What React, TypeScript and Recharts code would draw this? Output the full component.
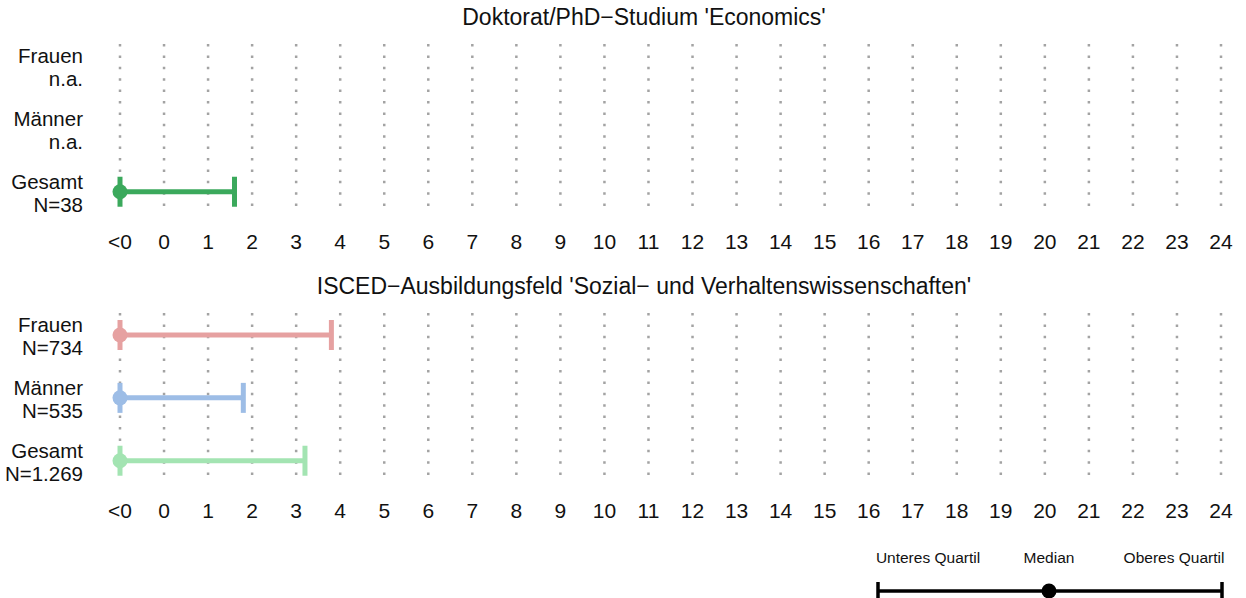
import React from 'react';
import { ScatterChart, Scatter, XAxis, YAxis, CartesianGrid, ErrorBar } from 'recharts';

// x positions: -1 stands for the "<0" column
const xTicks = [-1, 0, 1, 2, 3, 4, 5, 6, 7, 8, 9, 10, 11, 12, 13, 14, 15, 16, 17, 18, 19, 20, 21, 22, 23, 24];
const groups = ['Frauen', 'Männer', 'Gesamt'];
const rowPos = [1, 2, 3];

const phdTitle = "Doktorat/PhD\u2212Studium 'Economics'";
const phdN = ['n.a.', 'n.a.', 'N=38'];
const phdLower = [null, null, -1];
const phdMedian = [null, null, -1];
const phdUpper = [null, null, 1.6];
const phdColors = ['#e6a1a1', '#9dbde6', '#3ba95c'];

const iscedTitle = "ISCED\u2212Ausbildungsfeld 'Sozial\u2212 und Verhaltenswissenschaften'";
const iscedN = ['N=734', 'N=535', 'N=1.269'];
const iscedLower = [-1, -1, -1];
const iscedMedian = [-1, -1, -1];
const iscedUpper = [3.8, 1.8, 3.2];
const iscedColors = ['#e6a1a1', '#9dbde6', '#a3e4b2'];

const legendLabels = ['Unteres Quartil', 'Median', 'Oberes Quartil'];

const FONT = '"Liberation Sans", Arial, sans-serif';

const fmtTick = (v: number) => (v < 0 ? '<0' : String(v));

const RowTick = (props: any) => {
  const { x, y, payload, labels } = props;
  const i = rowPos.indexOf(payload.value);
  return (
    <text x={x} y={y} textAnchor="end" fontSize={20.5} fill="#111" fontFamily={FONT}>
      <tspan x={x} dy={-3}>{groups[i]}</tspan>
      <tspan x={x} dy={23}>{labels[i]}</tspan>
    </text>
  );
};

const makeDot = (color: string) => (props: any) => {
  const { cx, cy } = props;
  if (cx == null || cy == null) return <g />;
  return <circle cx={cx} cy={cy} r={7.5} fill={color} />;
};

type PanelProps = {
  title: string;
  top: number;
  nLabels: string[];
  lower: (number | null)[];
  median: (number | null)[];
  upper: (number | null)[];
  colors: string[];
};

function Panel({ title, top, nLabels, lower, median, upper, colors }: PanelProps) {
  const series = groups.map((g, i) =>
    median[i] == null
      ? []
      : [{ x: median[i], y: rowPos[i], err: [median[i]! - lower[i]!, upper[i]! - median[i]!] }]
  );
  return (
    <div style={{ position: 'absolute', left: 0, top, width: 1246, height: 260 }}>
      <ScatterChart width={1246} height={260} margin={{ top: 44, right: 25, bottom: 0, left: 0 }}>
        <CartesianGrid horizontal={false} stroke="#a3a3a3" strokeWidth={2.5} strokeDasharray="2.5 8.9" />
        <XAxis
          type="number"
          dataKey="x"
          domain={[-1, 24]}
          ticks={xTicks}
          interval={0}
          tickFormatter={fmtTick}
          axisLine={false}
          tickLine={false}
          tickSize={0}
          tickMargin={19}
          height={45}
          tick={{ fontSize: 21, fill: '#111' }}
        />
        <YAxis
          type="number"
          dataKey="y"
          domain={[0.65, 3.37]}
          reversed
          ticks={rowPos}
          interval={0}
          width={120}
          axisLine={false}
          tickLine={false}
          tickSize={0}
          tickMargin={37}
          tick={(p: any) => <RowTick {...p} labels={nLabels} />}
        />
        {series.map((d, i) => (
          <Scatter key={groups[i]} data={d} fill={colors[i]} isAnimationActive={false} shape={makeDot(colors[i])}>
            <ErrorBar dataKey="err" direction="x" width={15} stroke={colors[i]} strokeWidth={5} isAnimationActive={false} />
          </Scatter>
        ))}
      </ScatterChart>
      <div
        style={{
          position: 'absolute',
          left: 0,
          top: 4,
          width: 1288,
          textAlign: 'center',
          fontSize: 23,
          color: '#111',
          lineHeight: '26px',
        }}
      >
        {title}
      </div>
    </div>
  );
}

export default function App() {
  return (
    <div style={{ position: 'absolute', left: 0, top: 0, width: 1246, height: 598, background: '#fff', fontFamily: FONT }}>
      <Panel title={phdTitle} top={0} nLabels={phdN} lower={phdLower} median={phdMedian} upper={phdUpper} colors={phdColors} />
      <Panel title={iscedTitle} top={269} nLabels={iscedN} lower={iscedLower} median={iscedMedian} upper={iscedUpper} colors={iscedColors} />
      <svg style={{ position: 'absolute', left: 860, top: 540 }} width={386} height={58}>
        <text x={68} y={23} textAnchor="middle" fontSize={15.5} fill="#111">{legendLabels[0]}</text>
        <text x={189} y={23} textAnchor="middle" fontSize={15.5} fill="#111">{legendLabels[1]}</text>
        <text x={314} y={23} textAnchor="middle" fontSize={15.5} fill="#111">{legendLabels[2]}</text>
        <line x1={18} y1={51} x2={362} y2={51} stroke="#000" strokeWidth={3.5} />
        <line x1={18} y1={42} x2={18} y2={58} stroke="#000" strokeWidth={3.5} />
        <line x1={362} y1={42} x2={362} y2={58} stroke="#000" strokeWidth={3.5} />
        <circle cx={189} cy={51} r={7.5} fill="#000" />
      </svg>
    </div>
  );
}
